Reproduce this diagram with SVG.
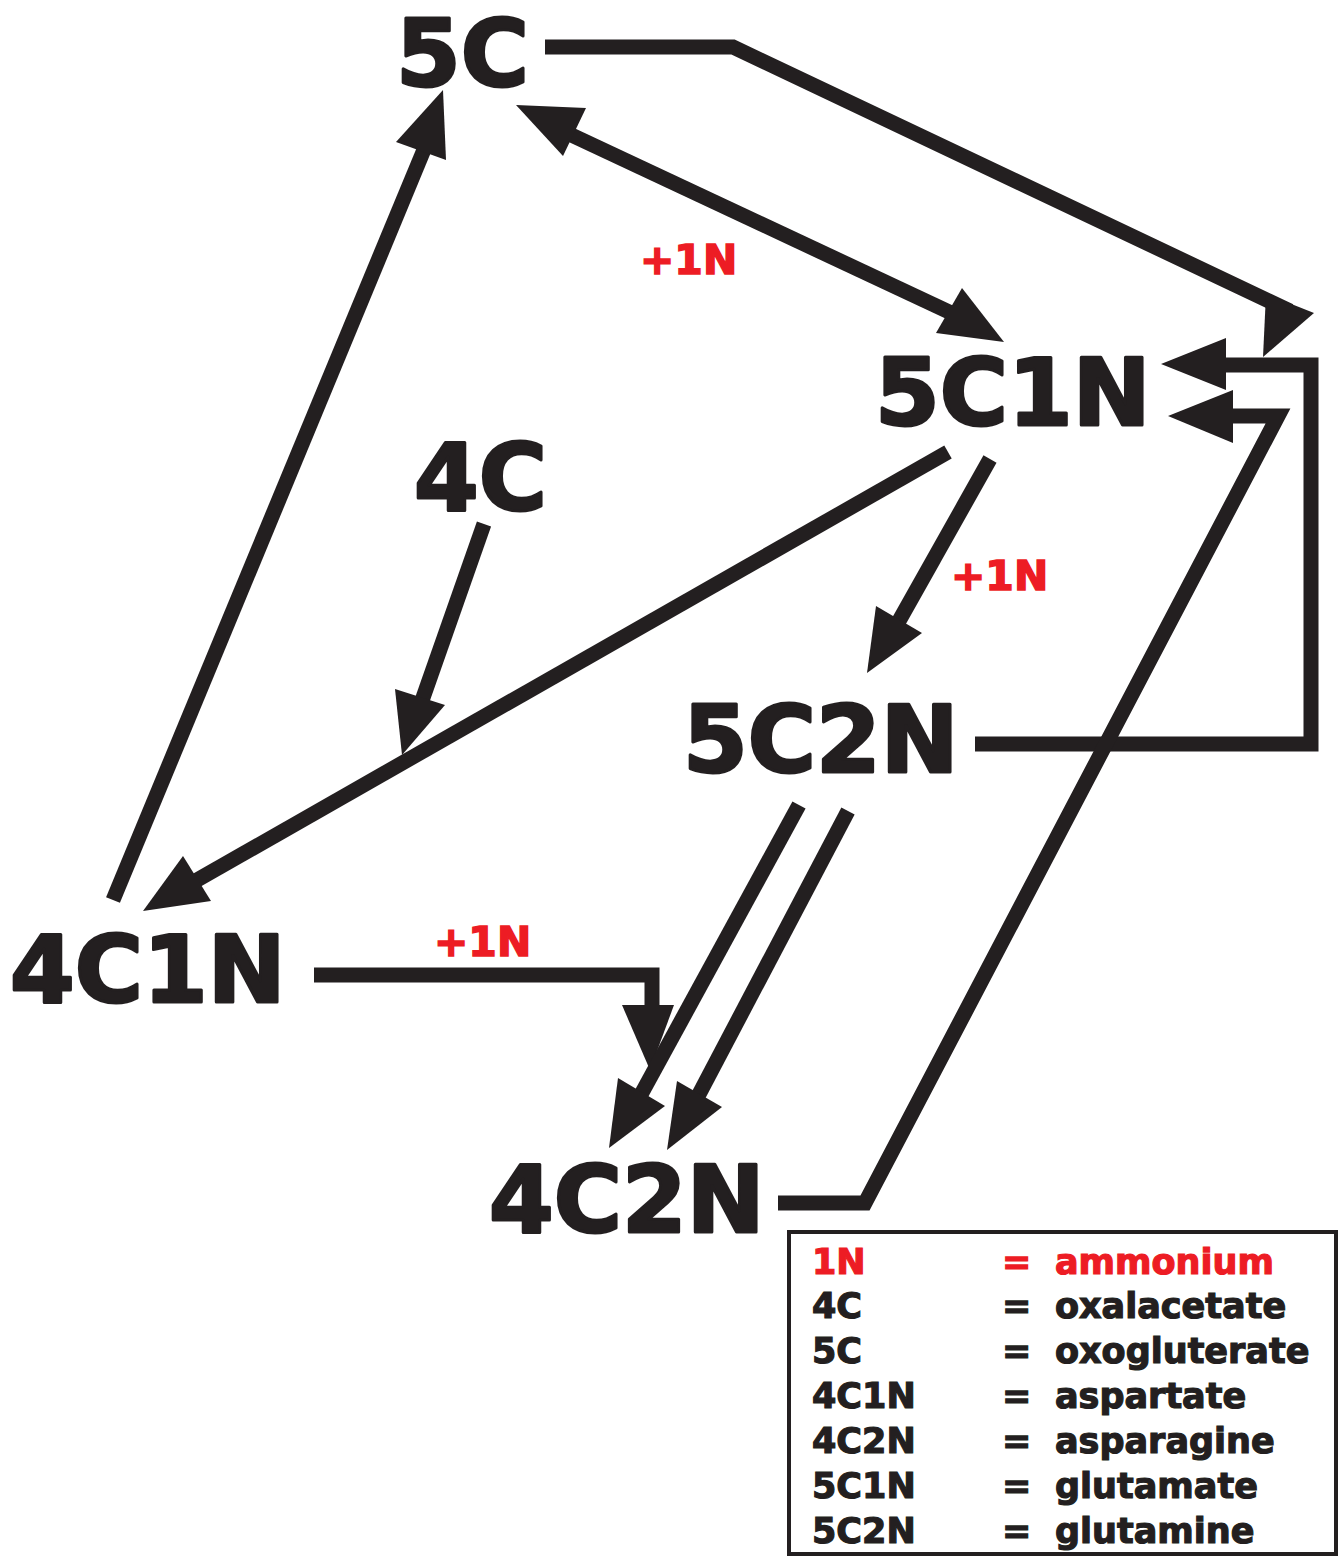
<svg xmlns="http://www.w3.org/2000/svg" width="1342" height="1558" viewBox="0 0 1342 1558">
<style>
.node{font-family:"DejaVu Sans","Liberation Sans",sans-serif;font-weight:bold;font-size:93px;fill:#231f20;stroke:#231f20;stroke-width:3;stroke-linejoin:round}
.red{font-family:"DejaVu Sans","Liberation Sans",sans-serif;font-weight:bold;font-size:41px;fill:#ed1c24;stroke:#ed1c24;stroke-width:1.5}
.leg{font-family:"DejaVu Sans","Liberation Sans",sans-serif;font-weight:bold;font-size:35px;fill:#231f20;stroke:#231f20;stroke-width:1.2}
.legr{fill:#ed1c24;stroke:#ed1c24}
.ln{fill:none;stroke:#231f20;stroke-width:15;stroke-linejoin:miter}
.ah{fill:#231f20;stroke:none}
</style>
<rect width="1342" height="1558" fill="#ffffff"/>
<g id="connectors">
  <polyline class="ln" points="545,47 733,47 1290,311"/>
  <polygon class="ah" points="1266,294 1314,313 1263,357"/>
  <polyline class="ln" points="975,744 1311,744 1311,365 1220,365"/>
  <polygon class="ah" points="1161,364 1226,338 1226,390"/>
  <polyline class="ln" points="778,1203 865,1203 1278,416 1228,416"/>
  <polygon class="ah" points="1168,416 1233,390 1233,443"/>
  <line class="ln" x1="565" y1="132" x2="962" y2="318"/>
  <polygon class="ah" points="516,105 586,108 563,156"/>
  <polygon class="ah" points="1004,342 962,288 936,333"/>
  <line class="ln" x1="113" y1="900" x2="428" y2="140"/>
  <polygon class="ah" points="443,90 396,142 446,160"/>
  <line class="ln" x1="948" y1="452" x2="190" y2="884"/>
  <polygon class="ah" points="143,911 183,856 211,901"/>
  <line class="ln" x1="484" y1="524" x2="418" y2="712"/>
  <polygon class="ah" points="402,755 395,689 445,705"/>
  <line class="ln" x1="990" y1="459" x2="895" y2="628"/>
  <polygon class="ah" points="867,673 876,606 922,633"/>
  <polyline class="ln" points="314,975 652,975 652,1010"/>
  <polygon class="ah" points="622,1005 674,1005 650,1070"/>
  <line class="ln" x1="799" y1="805" x2="638" y2="1100"/>
  <polygon class="ah" points="609,1148 618,1078 665,1106"/>
  <line class="ln" x1="848" y1="811" x2="696" y2="1100"/>
  <polygon class="ah" points="667,1150 677,1081 722,1107"/>
</g>
<g id="node-5C"><text class="node" x="396" y="86">5C</text></g>
<g id="node-5C1N"><text class="node" x="875" y="425">5C1N</text></g>
<g id="node-4C"><text class="node" x="414" y="510">4C</text></g>
<g id="node-5C2N"><text class="node" x="683" y="772">5C2N</text></g>
<g id="node-4C1N"><text class="node" x="10" y="1002">4C1N</text></g>
<g id="node-4C2N"><text class="node" x="489" y="1232">4C2N</text></g>
<g id="labels">
  <text class="red" x="640" y="274">+1N</text>
  <text class="red" x="951" y="590">+1N</text>
  <text class="red" x="434" y="956">+1N</text>
</g>
<g id="legend">
  <rect x="789" y="1232" width="547" height="322" fill="none" stroke="#231f20" stroke-width="4"/>
  <text class="leg legr" x="812" y="1274">1N</text><text class="leg legr" x="1002" y="1274">=</text><text class="leg legr" x="1055" y="1274">ammonium</text>
  <text class="leg" x="812" y="1318">4C</text><text class="leg" x="1002" y="1318">=</text><text class="leg" x="1055" y="1318">oxalacetate</text>
  <text class="leg" x="812" y="1363">5C</text><text class="leg" x="1002" y="1363">=</text><text class="leg" x="1055" y="1363">oxogluterate</text>
  <text class="leg" x="812" y="1408">4C1N</text><text class="leg" x="1002" y="1408">=</text><text class="leg" x="1055" y="1408">aspartate</text>
  <text class="leg" x="812" y="1453">4C2N</text><text class="leg" x="1002" y="1453">=</text><text class="leg" x="1055" y="1453">asparagine</text>
  <text class="leg" x="812" y="1498">5C1N</text><text class="leg" x="1002" y="1498">=</text><text class="leg" x="1055" y="1498">glutamate</text>
  <text class="leg" x="812" y="1543">5C2N</text><text class="leg" x="1002" y="1543">=</text><text class="leg" x="1055" y="1543">glutamine</text>
</g>
</svg>
